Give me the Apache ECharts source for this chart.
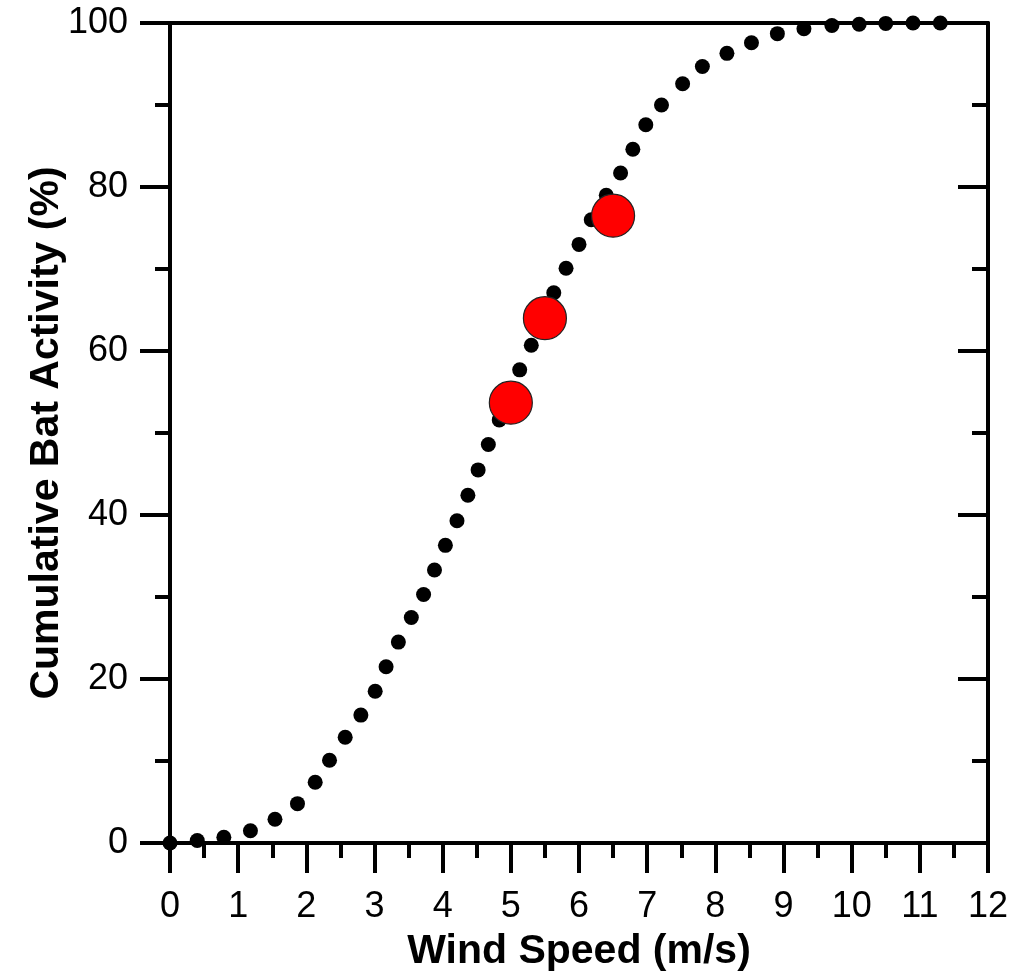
<!DOCTYPE html>
<html>
<head>
<meta charset="utf-8">
<script src="https://cdn.jsdelivr.net/npm/echarts@6/dist/echarts.min.js"></script>
<style>
html,body{margin:0;padding:0;background:#fff;}
#chart{width:1015px;height:975px;}
</style>
</head>
<body>
<div id="chart"></div>
<script>
// Cumulative curve (black dots)
const curveX = [0, 0.40, 0.79, 1.18, 1.54, 1.87, 2.13, 2.34, 2.57, 2.80, 3.01, 3.17, 3.35, 3.54, 3.72, 3.88, 4.04, 4.21, 4.37, 4.52, 4.67, 4.83, 4.98, 5.13, 5.30, 5.46, 5.63, 5.81, 6.00, 6.18, 6.40, 6.61, 6.79, 6.98, 7.21, 7.52, 7.81, 8.17, 8.53, 8.91, 9.30, 9.71, 10.11, 10.50, 10.90, 11.30];
const curveY = [0, 0.3, 0.7, 1.5, 2.9, 4.8, 7.4, 10.1, 12.9, 15.6, 18.5, 21.5, 24.5, 27.5, 30.3, 33.3, 36.3, 39.3, 42.4, 45.5, 48.6, 51.6, 54.8, 57.7, 60.7, 63.9, 67.1, 70.1, 73.0, 76.0, 79.0, 81.7, 84.6, 87.6, 90.0, 92.6, 94.7, 96.3, 97.6, 98.7, 99.3, 99.7, 99.85, 99.95, 100, 100];
// Highlighted points (red)
const redX = [5.0, 5.5, 6.5];
const redY = [53.7, 64.0, 76.5];
// Axis settings
const xTicks = ['0','1','2','3','4','5','6','7','8','9','10','11','12'];
const xTitle = 'Wind Speed (m/s)';
const yTitle = 'Cumulative Bat Activity (%)';

const FONT = '"Liberation Sans", Arial, sans-serif';
const lineW = 4;

const chart = echarts.init(document.getElementById('chart'), null, {renderer: 'canvas'});
const option = {
  animation: false,
  backgroundColor: '#fff',
  grid: {left: 170, right: 27, top: 23, bottom: 132, containLabel: false, outerBoundsMode: 'none'},
  xAxis: [
    {
      type: 'value', min: 0, max: 12, interval: 1, position: 'bottom',
      name: xTitle, nameLocation: 'middle', nameGap: 88, nameMoveOverlap: false,
      nameTextStyle: {fontFamily: FONT, fontWeight: 'bold', fontSize: 41, color: '#000'},
      axisLine: {show: true, onZero: false, lineStyle: {color: '#000', width: lineW}},
      axisTick: {show: true, inside: false, length: 30, lineStyle: {color: '#000', width: lineW}},
      minorTick: {show: true, splitNumber: 2, length: 15, lineStyle: {color: '#000', width: lineW}},
      axisLabel: {margin: 46, fontFamily: FONT, fontSize: 36, color: '#000',
        formatter: v => xTicks[Math.round(v)]},
      splitLine: {show: false}, minorSplitLine: {show: false}
    },
    {
      type: 'value', min: 0, max: 12, interval: 1, position: 'top',
      axisLine: {show: true, onZero: false, lineStyle: {color: '#000', width: lineW}},
      axisTick: {show: false}, axisLabel: {show: false}, splitLine: {show: false}
    }
  ],
  yAxis: [
    {
      type: 'value', min: 0, max: 100, interval: 20, position: 'left',
      name: yTitle, nameLocation: 'middle', nameGap: 103, nameRotate: 90, nameMoveOverlap: false,
      nameTextStyle: {fontFamily: FONT, fontWeight: 'bold', fontSize: 41, color: '#000'},
      axisLine: {show: true, onZero: false, lineStyle: {color: '#000', width: lineW}},
      axisTick: {show: true, inside: false, length: 30, lineStyle: {color: '#000', width: lineW}},
      minorTick: {show: true, splitNumber: 2, length: 15, lineStyle: {color: '#000', width: lineW}},
      axisLabel: {margin: 42, fontFamily: FONT, fontSize: 36, color: '#000'},
      splitLine: {show: false}, minorSplitLine: {show: false}
    },
    {
      type: 'value', min: 0, max: 100, interval: 20, position: 'right',
      axisLine: {show: true, onZero: false, lineStyle: {color: '#000', width: lineW}},
      axisTick: {show: true, inside: true, length: 30, lineStyle: {color: '#000', width: lineW}},
      minorTick: {show: true, splitNumber: 2, length: 16, lineStyle: {color: '#000', width: lineW}},
      axisLabel: {show: false}, splitLine: {show: false}, minorSplitLine: {show: false}
    }
  ],
  series: [
    {
      type: 'scatter', xAxisIndex: 0, yAxisIndex: 0,
      symbol: 'circle', symbolSize: 15,
      itemStyle: {color: '#000', opacity: 1},
      emphasis: {disabled: true},
      data: curveX.map((x, i) => [x, curveY[i]]),
      z: 3
    },
    {
      type: 'scatter', xAxisIndex: 0, yAxisIndex: 0,
      symbol: 'circle', symbolSize: 43,
      itemStyle: {color: '#ff0000', borderColor: '#222', borderWidth: 1.2, opacity: 1},
      emphasis: {disabled: true},
      data: redX.map((x, i) => [x, redY[i]]),
      z: 4
    }
  ]
};
chart.setOption(option);
</script>
</body>
</html>
